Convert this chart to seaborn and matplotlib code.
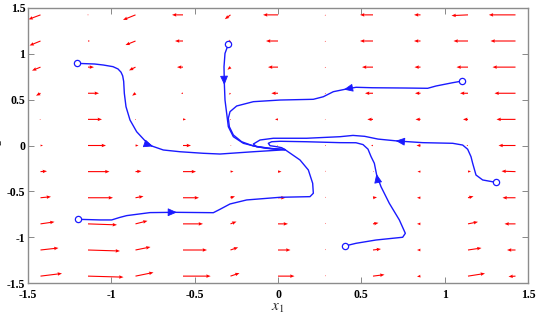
import numpy as np
import pandas as pd
import matplotlib
matplotlib.use("Agg")
import matplotlib.pyplot as plt
import seaborn as sns

# ---------------- data ----------------
tick_vals = [-1.5, -1, -0.5, 0, 0.5, 1, 1.5]
tick_labels = ["-1.5", "-1", "-0.5", "0", "0.5", "1", "1.5"]

# quiver grid (x1 columns left->right, x2 rows top->bottom)
grid_x1 = [-1.425, -1.14, -0.855, -0.57, -0.285, 0.0, 0.285, 0.57, 0.855, 1.14, 1.425]
grid_x2 = [1.425, 1.14, 0.855, 0.57, 0.285, 0.0, -0.285, -0.57, -0.855, -1.14, -1.425]

# vector components (data units), rows top->bottom
U = [
    [-0.072, 0.003, -0.075, -0.066, -0.034, -0.090, -0.004, -0.078, -0.039, -0.099, -0.160],
    [-0.066, 0.012, -0.060, -0.048, -0.021, -0.072, -0.004, -0.078, -0.039, -0.087, -0.150],
    [-0.051, 0.036, -0.039, -0.036, -0.018, -0.060, -0.004, -0.066, -0.036, -0.069, -0.138],
    [-0.027, 0.066, -0.020, -0.012, -0.010, -0.040, -0.004, -0.048, -0.033, -0.048, -0.126],
    [-0.006, 0.084, 0.000, 0.018, 0.000, -0.018, -0.004, -0.034, -0.030, -0.030, -0.114],
    [0.015, 0.108, 0.018, 0.048, 0.006, -0.006, -0.004, -0.012, -0.024, -0.009, -0.102],
    [0.039, 0.129, 0.036, 0.078, 0.018, 0.021, 0.002, 0.006, -0.018, 0.018, -0.084],
    [0.063, 0.150, 0.048, 0.096, 0.027, 0.045, 0.002, 0.024, -0.021, 0.033, -0.078],
    [0.084, 0.174, 0.072, 0.120, 0.036, 0.060, 0.002, 0.033, -0.021, 0.060, -0.066],
    [0.108, 0.192, 0.090, 0.144, 0.046, 0.075, 0.002, 0.048, -0.021, 0.081, -0.051],
    [0.129, 0.213, 0.108, 0.166, 0.054, 0.099, 0.002, 0.069, -0.021, 0.102, -0.042],
]
V = [
    [-0.049, 0.0, -0.055, 0.0, -0.047, 0.0, -0.011, 0.0, 0.0, -0.008, 0.0],
    [-0.049, 0.0, -0.044, 0.0, -0.027, 0.0, -0.011, 0.0, 0.0, 0.0, 0.0],
    [-0.038, 0.0, -0.036, 0.0, -0.029, 0.0, -0.011, 0.0, 0.0, 0.0, 0.0],
    [-0.027, 0.0, -0.027, 0.0, -0.014, 0.0, -0.011, 0.0, 0.0, 0.0, 0.0],
    [-0.005, 0.0, 0.0, 0.0, 0.0, 0.0, -0.008, 0.0, 0.0, 0.0, 0.0],
    [0.0, 0.0, 0.0, 0.0, 0.0, 0.0, 0.0, 0.0, 0.0, 0.0, 0.0],
    [0.005, 0.0, 0.005, 0.0, 0.003, 0.0, 0.011, 0.0, 0.0, 0.005, 0.005],
    [0.011, 0.0, 0.016, 0.0, 0.016, 0.0, 0.011, 0.005, 0.0, 0.016, 0.0],
    [0.022, -0.011, 0.033, 0.0, 0.025, 0.0, 0.011, 0.011, 0.0, 0.022, 0.0],
    [0.022, -0.011, 0.033, 0.0, 0.029, 0.0, 0.011, 0.011, 0.0, 0.022, 0.0],
    [0.029, -0.011, 0.040, 0.0, 0.033, 0.0, 0.011, 0.016, -0.005, 0.029, -0.005],
]

# trajectories (arrow index = where the direction marker sits)
t1_x = [-1.204, -1.100, -1.048, -0.990, -0.960, -0.942, -0.932, -0.926, -0.922, -0.912, -0.888,
        -0.848, -0.798, -0.758, -0.688, -0.588, -0.448, -0.348, -0.148, 0.012, 0.042]
t1_y = [0.896, 0.889, 0.878, 0.860, 0.835, 0.800, 0.760, 0.700, 0.569, 0.423, 0.278,
        0.150, 0.052, -0.005, -0.049, -0.068, -0.085, -0.093, -0.068, -0.050, -0.045]
t2_x = [-0.298, -0.318, -0.324, -0.322, -0.318, -0.308, -0.298, -0.268, -0.208, -0.128, -0.028, 0.042]
t2_y = [1.104, 1.005, 0.859, 0.678, 0.496, 0.351, 0.205, 0.096, 0.024, -0.013, -0.038, -0.045]
t3_x = [1.104, 1.048, 0.948, 0.898, 0.768, 0.568, 0.468, 0.402, 0.332, 0.272, 0.212, 0.012,
        -0.148, -0.248, -0.288, -0.298, -0.292, -0.268, -0.218, -0.148, -0.048, 0.042]
t3_y = [0.703, 0.685, 0.649, 0.624, 0.627, 0.630, 0.635, 0.613, 0.587, 0.532, 0.504, 0.496,
        0.478, 0.431, 0.369, 0.297, 0.205, 0.115, 0.041, -0.005, -0.031, -0.045]
t4_x = [1.307, 1.228, 1.188, 1.168, 1.158, 1.138, 1.108, 1.048, 0.868, 0.718, 0.600, 0.520,
        0.450, 0.372, 0.172, -0.028, -0.108, -0.148, -0.128, -0.068, 0.012, 0.042]
t4_y = [-0.402, -0.376, -0.322, -0.194, -0.122, -0.041, 0.005, 0.024, 0.031, 0.049, 0.070, 0.100,
        0.110, 0.096, 0.079, 0.079, 0.060, 0.016, -0.013, -0.031, -0.041, -0.045]
t5_x = [0.402, 0.468, 0.588, 0.748, 0.764, 0.728, 0.668, 0.618, 0.592, 0.578, 0.558, 0.540,
        0.510, 0.468, 0.372, 0.172, 0.012, -0.038, -0.058, -0.048, -0.008, 0.022, 0.042]
t5_y = [-1.096, -1.067, -1.031, -1.001, -0.958, -0.812, -0.631, -0.449, -0.322, -0.194, -0.120, -0.040,
        0.010, 0.030, 0.031, 0.041, 0.046, 0.041, 0.024, -0.002, -0.013, -0.024, -0.045]
t6_x = [-1.202, -1.068, -0.998, -0.950, -0.908, -0.768, -0.618, -0.500, -0.388, -0.348, -0.288,
        -0.188, 0.012, 0.192, 0.212, 0.208, 0.182, 0.132, 0.042]
t6_y = [-0.805, -0.812, -0.812, -0.785, -0.765, -0.732, -0.729, -0.731, -0.733, -0.696, -0.638,
        -0.594, -0.565, -0.558, -0.521, -0.412, -0.267, -0.158, -0.045]

trajectories = [(t1_x, t1_y, 13), (t2_x, t2_y, 3), (t3_x, t3_y, 7),
                (t4_x, t4_y, 9), (t5_x, t5_y, 8), (t6_x, t6_y, 6)]

# ---------------- plotting ----------------
sns.set_theme(style="white")
plt.rcParams["font.family"] = ["Liberation Serif", "DejaVu Serif"]
plt.rcParams["mathtext.fontset"] = "stix"

fig, ax = plt.subplots(figsize=(5.36, 3.16), dpi=100)
fig.subplots_adjust(left=28 / 536, right=528 / 536, bottom=(316 - 283) / 316, top=(316 - 8) / 316)

X, Y = np.meshgrid(grid_x1, grid_x2)
ax.quiver(X, Y, np.array(U), np.array(V), color="#ff0000", angles="xy", scale_units="xy",
          scale=1, pivot="tail", width=0.0022, headwidth=3.2, headlength=4.0,
          headaxislength=3.6, minlength=0.8, zorder=2)

blue = "#1a1aff"
for k, (tx, ty, ai) in enumerate(trajectories):
    df = pd.DataFrame({"x1": tx, "x2": ty})
    sns.lineplot(data=df, x="x1", y="x2", sort=False, estimator=None, color=blue,
                 linewidth=1.0, ax=ax, zorder=3)
    ax.plot(tx[0], ty[0], marker="o", mfc="white", mec=blue, ms=4.5, mew=0.9, zorder=4)
    p0 = np.array([tx[ai], ty[ai]])
    p1 = np.array([tx[ai + 1], ty[ai + 1]])
    ax.annotate("", xy=p0 + 0.1 * (p1 - p0), xytext=p0,
                arrowprops=dict(arrowstyle="-|>,head_length=0.8,head_width=0.35",
                                color=blue, lw=0.6, shrinkA=0, shrinkB=0,
                                mutation_scale=7), zorder=4)

ax.set_xlim(-1.5, 1.5)
ax.set_ylim(-1.5, 1.5)
ax.set_xticks(tick_vals)
ax.set_xticklabels(tick_labels)
ax.set_yticks(tick_vals)
ax.set_yticklabels(tick_labels)
for lab in ax.get_xticklabels() + ax.get_yticklabels():
    lab.set_fontweight("bold")
    lab.set_fontsize(8.5)

ax.tick_params(axis="both", direction="in", length=4, width=0.7, color="#888888",
               top=True, right=True, bottom=True, left=True, labelcolor="black")
ax.tick_params(axis="x", pad=4)
ax.tick_params(axis="y", pad=2)
for s in ax.spines.values():
    s.set_color("#8c8c8c")
    s.set_linewidth(1.0)

ax.set_xlabel("$x_1$", fontsize=11, labelpad=1)
ax.set_ylabel("$x_2$", fontsize=11)
ax.yaxis.set_label_coords(-0.046, 0.5)

fig.savefig("out.png", dpi=100)
